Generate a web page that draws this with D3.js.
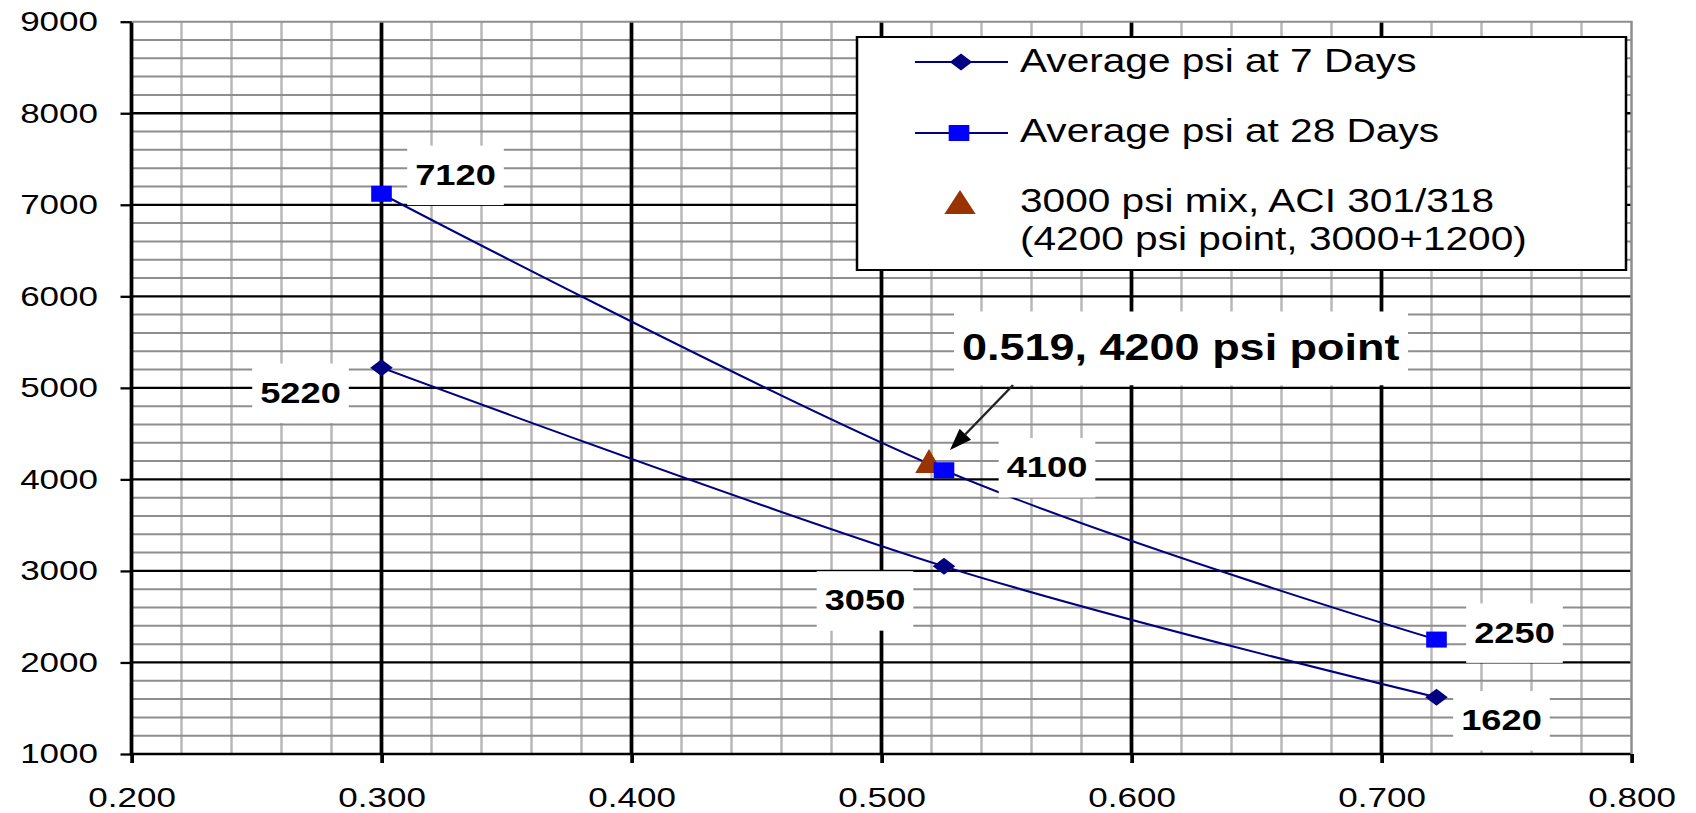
<!DOCTYPE html>
<html>
<head>
<meta charset="utf-8">
<script src="https://cdn.jsdelivr.net/npm/d3@7"></script>
<style>
  body { margin: 0; background: #fff; }
  svg { display: block; }
  text { font-family: "Liberation Sans", Arial, sans-serif; }
</style>
</head>
<body>
<svg id="chart"></svg>
<script>
// water / cement ratio vs compressive strength
var wcRatio = [0.300, 0.525, 0.722];
var psi7 = [5220, 3050, 1620];
var psi28 = [7120, 4100, 2250];
var aciPoint = { ratio: 0.519, psi: 4200 };

var xTicks = [0.2, 0.3, 0.4, 0.5, 0.6, 0.7, 0.8];
var yTicks = [1000, 2000, 3000, 4000, 5000, 6000, 7000, 8000, 9000];

var legendLabels = ['Average psi at 7 Days', 'Average psi at 28 Days',
	['3000 psi mix, ACI 301/318', '(4200 psi point, 3000+1200)']];
var noteText = '0.519, 4200 psi point';

// the original picture is stretched sideways, so draw in a narrower box
var SX = 1.25;
var W = 1696, H = 813;
var hx = function (px) { return px / SX; };

var svg = d3.select('#chart')
	.attr('width', W).attr('height', H)
	.attr('viewBox', '0 0 ' + (W / SX) + ' ' + H)
	.attr('preserveAspectRatio', 'none');

var x = d3.scaleLinear().domain([0.2, 0.8]).range([hx(131.5), hx(1631.5)]);
var y = d3.scaleLinear().domain([1000, 9000]).range([754, 21.7]);

// grid
var grid = svg.append('g');
var xMinor = d3.range(0, 31).filter(function (i) { return i % 5; }).map(function (i) { return 0.2 + i * 0.02; });
var yMinor = d3.range(0, 41).filter(function (i) { return i % 5; }).map(function (i) { return 1000 + i * 200; });

grid.selectAll('.vminor').data(xMinor).enter().append('line')
	.attr('x1', x).attr('x2', x).attr('y1', y(9000)).attr('y2', y(1000))
	.attr('stroke', '#b8b8b8').attr('stroke-width', 2);
grid.selectAll('.hminor').data(yMinor).enter().append('line')
	.attr('x1', x(0.2)).attr('x2', x(0.8)).attr('y1', y).attr('y2', y)
	.attr('stroke', '#8e8e8e').attr('stroke-width', 2);
grid.selectAll('.hmajor').data(yTicks.slice(0, -1)).enter().append('line')
	.attr('x1', x(0.2)).attr('x2', x(0.8)).attr('y1', y).attr('y2', y)
	.attr('stroke', '#000').attr('stroke-width', 2.3);
grid.selectAll('.vmajor').data(xTicks.slice(0, -1)).enter().append('line')
	.attr('x1', x).attr('x2', x).attr('y1', y(9000)).attr('y2', y(1000))
	.attr('stroke', '#000').attr('stroke-width', 3);
// gray plot border on top and right
grid.append('path')
	.attr('d', 'M' + x(0.2) + ',' + y(9000) + 'H' + x(0.8) + 'V' + y(1000))
	.attr('fill', 'none').attr('stroke', '#8e8e8e').attr('stroke-width', 2);

// axes
var xAxis = svg.append('g')
	.attr('transform', 'translate(0,' + y(1000) + ')')
	.call(d3.axisBottom(x).tickValues(xTicks).tickFormat(d3.format('.3f'))
		.tickSizeInner(9).tickSizeOuter(0).tickPadding(24));
xAxis.select('.domain').remove();
xAxis.selectAll('line').attr('stroke', '#000').attr('stroke-width', 3);
xAxis.selectAll('text').attr('font-size', 28).attr('fill', '#000')
	.style('font-family', '"Liberation Sans", Arial, sans-serif');

var yAxis = svg.append('g')
	.attr('transform', 'translate(' + x(0.2) + ',0)')
	.call(d3.axisLeft(y).tickValues(yTicks).tickFormat(d3.format('d'))
		.tickSizeInner(hx(11)).tickSizeOuter(0).tickPadding(hx(22.5)));
yAxis.select('.domain').remove();
yAxis.selectAll('line').attr('stroke', '#000').attr('stroke-width', 2.3);
yAxis.selectAll('text').attr('font-size', 28).attr('fill', '#000')
	.style('font-family', '"Liberation Sans", Arial, sans-serif');

// series
var s7 = wcRatio.map(function (r, i) { return { r: r, v: psi7[i] }; });
var s28 = wcRatio.map(function (r, i) { return { r: r, v: psi28[i] }; });

var line = d3.line()
	.x(function (d) { return x(d.r); })
	.y(function (d) { return y(d.v); })
	.curve(d3.curveCardinal.tension(0));

var plot = svg.append('g');
plot.append('path').datum(s7).attr('d', line)
	.attr('fill', 'none').attr('stroke', '#000080').attr('stroke-width', 2);
plot.append('path').datum(s28).attr('d', line)
	.attr('fill', 'none').attr('stroke', '#000080').attr('stroke-width', 2);

var diamond = 'M0,-8.5L9,0L0,8.5L-9,0Z';
var triangle = 'M0,-12L11,12L-11,12Z';

plot.append('path')
	.attr('d', triangle)
	.attr('transform', 'translate(' + x(aciPoint.ratio) + ',' + y(aciPoint.psi) + ')')
	.attr('fill', '#993300');

plot.selectAll('.dia').data(s7).enter().append('path')
	.attr('d', diamond)
	.attr('transform', function (d) { return 'translate(' + x(d.r) + ',' + y(d.v) + ')'; })
	.attr('fill', '#000080');

plot.selectAll('.sq').data(s28).enter().append('rect')
	.attr('x', function (d) { return x(d.r) - 8.25; })
	.attr('y', function (d) { return y(d.v) - 8; })
	.attr('width', 16.5).attr('height', 16)
	.attr('fill', '#0000ff');

// data labels, offsets in screen pixels from the point (dx to centre, dy to baseline)
var off7 = [[-81, 35], [-79, 44], [65, 33]];
var off28 = [[74, -9], [103, 7], [78, 3]];

var boxText = function (g, tx, ty, str, fs, anchor) {
	var box = g.append('rect').attr('fill', '#fff');
	var t = g.append('text')
		.attr('x', tx).attr('y', ty)
		.attr('text-anchor', anchor)
		.attr('font-size', fs).attr('font-weight', 'bold')
		.attr('fill', '#000')
		.text(str);
	var bb = t.node().getBBox();
	box.attr('x', bb.x - hx(8)).attr('width', bb.width + hx(16))
		.attr('y', ty - 1.35 * fs).attr('height', 2.05 * fs);
};

var labels = svg.append('g');
s7.forEach(function (d, i) {
	boxText(labels.append('g'), x(d.r) + hx(off7[i][0]), y(d.v) + off7[i][1], d.v, 29, 'middle');
});
s28.forEach(function (d, i) {
	boxText(labels.append('g'), x(d.r) + hx(off28[i][0]), y(d.v) + off28[i][1], d.v, 29, 'middle');
});

// annotation with arrow
var px0 = x(aciPoint.ratio) * SX, py0 = y(aciPoint.psi);
boxText(labels.append('g'), hx(px0 + 33), py0 - 101, noteText, 36, 'start');

var start = [px0 + 84, py0 - 76], tip = [px0 + 21, py0 - 11];
var dx = tip[0] - start[0], dy = tip[1] - start[1];
var len = Math.sqrt(dx * dx + dy * dy);
var u = [dx / len, dy / len], n = [-u[1], u[0]];
var base = [tip[0] - u[0] * 22, tip[1] - u[1] * 22];
labels.append('line')
	.attr('x1', hx(start[0])).attr('y1', start[1])
	.attr('x2', hx(base[0])).attr('y2', base[1])
	.attr('stroke', '#222').attr('stroke-width', 2);
labels.append('path')
	.attr('d', 'M' + hx(tip[0]) + ',' + tip[1] +
		'L' + hx(base[0] + n[0] * 8) + ',' + (base[1] + n[1] * 8) +
		'L' + hx(base[0] - n[0] * 8) + ',' + (base[1] - n[1] * 8) + 'Z')
	.attr('fill', '#000');

// legend
var lg = svg.append('g');
lg.append('rect')
	.attr('x', hx(857)).attr('y', 37)
	.attr('width', hx(1626 - 857)).attr('height', 233)
	.attr('fill', '#fff').attr('stroke', '#000').attr('stroke-width', 2);

[62, 133].forEach(function (ly) {
	lg.append('line')
		.attr('x1', hx(915)).attr('x2', hx(1008)).attr('y1', ly).attr('y2', ly)
		.attr('stroke', '#000080').attr('stroke-width', 2);
});
lg.append('path').attr('d', diamond)
	.attr('transform', 'translate(' + hx(961) + ',62)').attr('fill', '#000080');
lg.append('rect')
	.attr('x', hx(959) - 8.25).attr('y', 133 - 8)
	.attr('width', 16.5).attr('height', 16).attr('fill', '#0000ff');
lg.append('path').attr('d', 'M0,-12L12.5,12L-12.5,12Z')
	.attr('transform', 'translate(' + hx(960) + ',202)').attr('fill', '#993300');

var lgText = function (str, ly) {
	lg.append('text').attr('x', hx(1020)).attr('y', ly)
		.attr('font-size', 32.5).attr('fill', '#000').text(str);
};
lgText(legendLabels[0], 72);
lgText(legendLabels[1], 142);
lgText(legendLabels[2][0], 212);
lgText(legendLabels[2][1], 250);
</script>
</body>
</html>
